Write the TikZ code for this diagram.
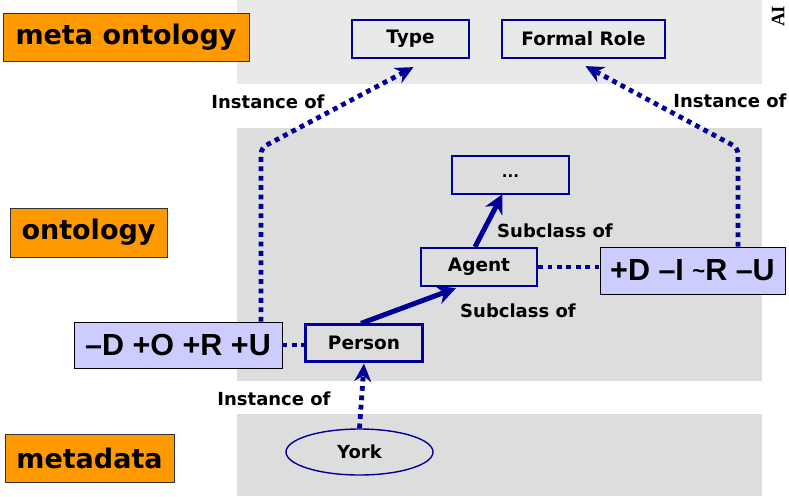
\documentclass[tikz,border=0pt]{standalone}
\usepackage{fontspec}
\setmainfont{DejaVu Sans}
\newfontfamily\bigfont{Liberation Sans}
\usetikzlibrary{arrows.meta,shapes.geometric,calc}

\definecolor{navy}{HTML}{000099}
\definecolor{layerorange}{HTML}{FF9900}
\definecolor{lavender}{HTML}{CCCCFF}
\definecolor{bandlight}{HTML}{E9E9E9}
\definecolor{banddark}{HTML}{DDDDDD}

\tikzset{
  band/.style={fill=#1, draw=none},
  layerlabel/.style={draw=black!80, fill=layerorange, line width=1pt, inner sep=0pt,
    font=\fontsize{27}{30}\selectfont\bfseries},
  classbox/.style={draw=navy, line width=2.2pt, inner sep=0pt,
    font=\fontsize{18.5}{20}\selectfont\bfseries},
  propbox/.style={draw=black, fill=lavender, line width=0.9pt, inner sep=0pt,
    font=\bigfont\fontsize{30.5}{34}\selectfont\bfseries},
  relabel/.style={inner sep=0pt, font=\fontsize{18}{20}\selectfont\bfseries},
  dotlink/.style={draw=navy, line width=4.8pt, line cap=butt,
    dash pattern=on 4.8pt off 4.6pt, rounded corners=6pt},
  dottip/.style={-{Stealth[length=18pt, width=17pt, inset=6pt]}},
  subclasslink/.style={draw=navy, line width=5pt,
    -{Stealth[length=19pt, width=19pt, inset=6pt]}},
}

\begin{document}
\begin{tikzpicture}[x=1pt, y=-1pt]
  \useasboundingbox (0,0) rectangle (789,496);

  % layer bands
  \fill[band=bandlight] (237,0) rectangle (762,84);
  \fill[band=banddark] (237,128) rectangle (762,381);
  \fill[band=banddark] (237,414) rectangle (762,496);

  % rotated running head, cut by the page edge
  \node[rotate=90, anchor=west, inner sep=0pt,
        font=\fontspec{Liberation Serif}\fontsize{19}{20}\selectfont\bfseries]
        (runhead) at (778,27) {AI};

  % layer labels
  \node[layerlabel, minimum width=246pt, minimum height=48pt] (lmeta) at (126,37) {meta ontology};
  \node[layerlabel, minimum width=157pt, minimum height=49pt] (lonto) at (88.5,232.5) {ontology};
  \node[layerlabel, minimum width=169pt, minimum height=48pt] (ldata) at (89.5,458) {metadata};

  % meta ontology
  \node[classbox, minimum width=117pt, minimum height=38pt] (type) at (410.5,39) {Type};
  \node[classbox, minimum width=163pt, minimum height=38pt] (role) at (583.5,39) {Formal Role};

  % ontology
  \node[classbox, minimum width=117pt, minimum height=38pt] (dots) at (510.5,175) {\raisebox{-5pt}{\fontsize{15}{15}\selectfont ...}};
  \node[classbox, minimum width=116pt, minimum height=38pt] (agent) at (479,267) {Agent};
  \node[classbox, minimum width=117pt, minimum height=37pt] (person) at (364,343) {Person};
  \node[propbox, minimum width=208pt, minimum height=46pt] (pperson) at (178,345) {–D +O +R +U};
  \node[propbox, minimum width=185pt, minimum height=47pt] (pagent) at (692.5,270.5) {+D –I \raisebox{2pt}{\fontsize{22}{22}\selectfont\textasciitilde}R –U};

  % metadata
  \node[ellipse, draw=navy, line width=1.4pt, minimum width=147pt, minimum height=46pt,
        inner sep=0pt, font=\fontsize{18}{20}\selectfont\bfseries] (york) at (359.5,452) {York};

  % bends of the instance-of links
  \coordinate (lbend) at (261,148);
  \coordinate (rbend) at (738,148);

  % subclass links
  \draw[subclasslink] ([xshift=-3pt]person.north) -- ([xshift=-23pt,yshift=-1pt]agent.south);
  \draw[subclasslink] ([xshift=-4pt]agent.north) -- ([xshift=-8pt,yshift=1pt]dots.south);

  % instance-of links
  \draw[dotlink, dottip] (york.north) -- ([yshift=-1pt]person.south);
  \draw[dotlink, dottip] (pperson.north -| lbend) -- (lbend) -- ([xshift=3pt,yshift=-8pt]type.south);
  \draw[dotlink, dottip] (pagent.north -| rbend) -- (rbend) -- ([xshift=2pt,yshift=-7pt]role.south);

  % property links
  \draw[dotlink] (pperson.east) -- (pperson.east -| person.west);
  \draw[dotlink] (agent.east) -- (agent.east -| pagent.west);

  % link labels
  \node[relabel] (inst1) at (268,102) {Instance of};
  \node[relabel] (inst2) at (730,101) {Instance of};
  \node[relabel] (sub1) at (555,231) {Subclass of};
  \node[relabel] (sub2) at (518,311) {Subclass of};
  \node[relabel] (inst3) at (274,399) {Instance of};
\end{tikzpicture}
\end{document}
